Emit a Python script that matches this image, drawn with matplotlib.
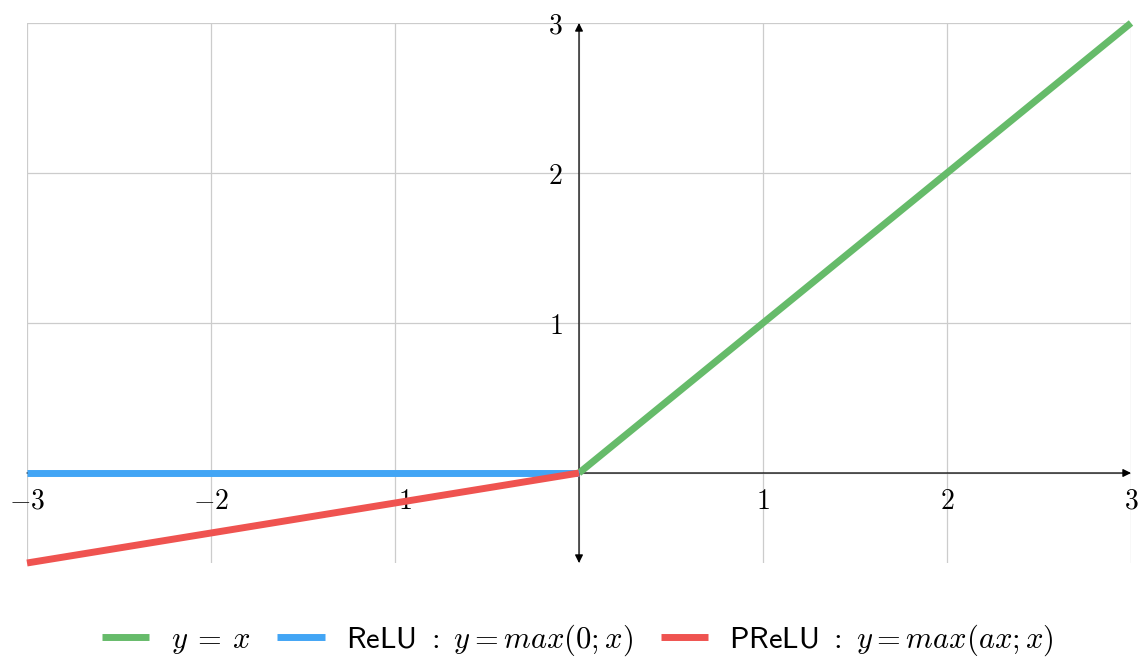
import numpy as np
import matplotlib
matplotlib.use("Agg")
import matplotlib.pyplot as plt

plt.rcParams['mathtext.fontset'] = 'cm'

# --- data ---
x_left = [-3, 0]
x_right = [0, 3]
identity_y = [0, 3]          # y = x on x >= 0
relu_y = [0, 0]              # ReLU on x < 0
prelu_y = [-0.6, 0]          # PReLU (a = 0.2) on x < 0

x_ticks = [-3, -2, -1, 1, 2, 3]
y_ticks = [1, 2, 3]
grid_x = [-3, -2, -1, 0, 1, 2, 3]
grid_y = [0, 1, 2, 3]

labels = [r'$y\:=\:x$',
          r'$\mathsf{ReLU\ :}\ y = max(0;x)$',
          r'$\mathsf{PReLU\ :}\ y = max(ax;x)$']
colors = ['#66bb6a', '#42a5f5', '#ef5350']

fig = plt.figure(figsize=(11.45, 6.62), dpi=100)
W, H = 1145, 662
ax = fig.add_axes([27 / W, 1 - 563 / H, (1131 - 27) / W, (563 - 23) / H])
ax.set_xlim(-3, 3)
ax.set_ylim(-0.6, 3)

# grid
for gx in grid_x:
    ax.axvline(gx, color='#cccccc', lw=0.9, zorder=0.3)
for gy in grid_y:
    ax.axhline(gy, color='#cccccc', lw=0.9, zorder=0.3)

# axes through origin
for sp in ['top', 'right']:
    ax.spines[sp].set_visible(False)
ax.spines['left'].set_position('zero')
ax.spines['bottom'].set_position('zero')
ax.spines['left'].set_color('none')
ax.spines['bottom'].set_color('none')
ax.set_axisbelow(True)

ax.annotate('', xy=(3, 0), xytext=(-3, 0),
            arrowprops=dict(arrowstyle='-|>', color='black', lw=0.9,
                            shrinkA=0, shrinkB=0, mutation_scale=12),
            zorder=2.5)
ax.annotate('', xy=(0, 3), xytext=(0, -0.6),
            arrowprops=dict(arrowstyle='<|-|>', color='black', lw=0.9,
                            shrinkA=0, shrinkB=0, mutation_scale=12),
            zorder=2.5)

ax.set_xticks(x_ticks, [f'${v}$' for v in x_ticks])
ax.set_yticks(y_ticks, [f'${v}$' for v in y_ticks])
ax.tick_params(axis='both', length=0, labelsize=20)
ax.tick_params(axis='x', pad=10)
ax.tick_params(axis='y', pad=12)

lw = 5
ax.plot(x_right, identity_y, color=colors[0], lw=lw, label=labels[0],
        zorder=3, solid_capstyle='butt', clip_on=False)
ax.plot(x_left, relu_y, color=colors[1], lw=lw, label=labels[1],
        zorder=3, solid_capstyle='butt', clip_on=False)
ax.plot(x_left, prelu_y, color=colors[2], lw=lw, label=labels[2],
        zorder=3, solid_capstyle='butt', clip_on=False)

fig.legend(loc='center', bbox_to_anchor=(578 / W, 1 - 640 / H), ncol=3,
           frameon=False, fontsize=22, handlelength=1.55, handletextpad=0.7,
           columnspacing=0.9)

fig.savefig('out.png', dpi=100)
